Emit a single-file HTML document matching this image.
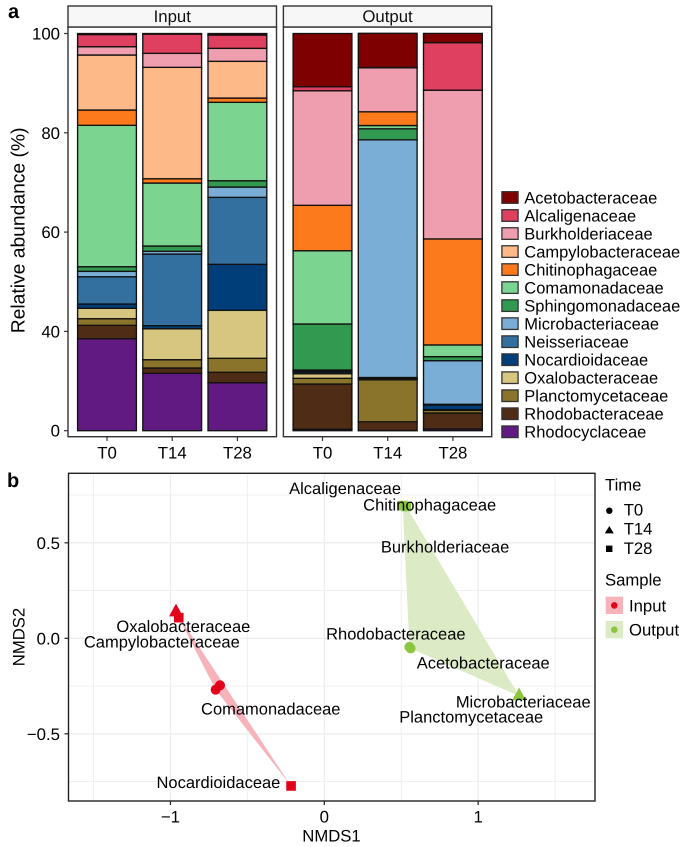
<!DOCTYPE html>
<html>
<head>
<meta charset="utf-8">
<style>
html,body{margin:0;padding:0;background:#fff;}
svg{display:block;font-family:"Liberation Sans",sans-serif;text-rendering:geometricPrecision;}
</style>
</head>
<body>
<svg id="chart" width="685" height="847" viewBox="0 0 685 847" xmlns="http://www.w3.org/2000/svg">
<text x="8" y="18" font-size="20" font-weight="bold" fill="#000">a</text>
<text x="7" y="487" font-size="20" font-weight="bold" fill="#000">b</text>
<text transform="translate(24.7,230.4) rotate(-90)" text-anchor="middle" font-size="19.3" fill="#000">Relative abundance (%)</text>
<text x="331.5" y="841.5" text-anchor="middle" font-size="16.7" fill="#000">NMDS1</text>
<text transform="translate(24.7,637) rotate(-90)" text-anchor="middle" font-size="16.7" fill="#000">NMDS2</text>
<g id="panelA"></g>
<g id="legendA"></g>
<g id="panelB"></g>
<g>
<text x="605" y="490.7" font-size="16.7" fill="#000">Time</text>
<circle cx="609.3" cy="510.7" r="3.2" fill="#000"/>
<text x="623.7" y="515.3" font-size="16.7" fill="#000">T0</text>
<polygon points="609.3,526 604.8,533.4 613.8,533.4" fill="#000"/>
<text x="623.7" y="534.7" font-size="16.7" fill="#000">T14</text>
<rect x="606" y="545.6" width="6.4" height="6.4" fill="#000"/>
<text x="623.7" y="554" font-size="16.7" fill="#000">T28</text>
</g>
<g>
<text x="605" y="585.5" font-size="16.7" fill="#000">Sample</text>
<rect x="605.7" y="596.7" width="17.3" height="17.3" fill="#f6b3ba"/>
<circle cx="614.3" cy="605.4" r="3.3" fill="#e2001a"/>
<text x="629" y="611.7" font-size="16.7" fill="#000">Input</text>
<rect x="605.7" y="621" width="17.3" height="17.3" fill="#dcebc6"/>
<circle cx="614.3" cy="629.7" r="3.3" fill="#8cc63f"/>
<text x="629" y="635.7" font-size="16.7" fill="#000">Output</text>
</g>
</svg>
<script>
// ---------- Panel a data (percent, order: Input T0,T14,T28, Output T0,T14,T28) ----------
const families = ["Acetobacteraceae","Alcaligenaceae","Burkholderiaceae","Campylobacteraceae","Chitinophagaceae","Comamonadaceae","Sphingomonadaceae","Microbacteriaceae","Neisseriaceae","Nocardioidaceae","Oxalobacteraceae","Planctomycetaceae","Rhodobacteraceae","Rhodocyclaceae"];
const familyColors = ["#7f0000","#e04060","#ee9eae","#feb989","#fd7a1c","#7bd48f","#329a50","#7aaed6","#33709f","#003e7a","#d6c680","#8a742c","#4e2c15","#601a82"];
const timeLabels = ["T0","T14","T28"];
const panelNames = ["Input","Output"];
const abundanceTicks = [0,25,50,75,100];
const abundanceTickLabels = ["0","40","60","80","100"];
const acetobacteraceae = [0.25,0.13,0.38,13.39,8.61,2.32];
const alcaligenaceae = [3.07,4.86,3.35,1.01,0.08,11.98];
const burkholderiaceae = [2.09,3.52,3.27,28.85,11.08,37.44];
const campylobacteraceae = [13.85,28.05,9.24,0,0,0];
const chitinophagaceae = [3.85,1.08,1.08,11.43,3.45,26.69];
const comamonadaceae = [35.6,15.86,19.74,18.45,0.83,2.95];
const sphingomonadaceae = [1.16,1.33,1.59,11.58,2.77,1.01];
const microbacteriaceae = [1.36,0.68,2.59,0.25,59.84,10.98];
const neisseriaceae = [6.87,18.05,16.87,0.25,0.2,0.18];
const nocardioidaceae = [1.08,0.76,11.58,0.43,0.13,1.18];
const oxalobacteraceae = [2.62,7.8,12.08,1.16,0.25,0.15];
const planctomycetaceae = [1.66,2.09,3.52,1.44,10.57,0.68];
const rhodobacteraceae = [3.37,1.33,2.62,11.4,2.19,4.03];
const rhodocyclaceae = [23.16,14.45,12.08,0.35,0.05,0.43];
// ---------- Panel b data (NMDS units) ----------
const inputNmds1 = [-0.678,-0.706,-0.964,-0.946,-0.216];
const inputNmds2 = [-0.246,-0.269,0.138,0.108,-0.773];
const inputTimes = ["T0","T0","T14","T28","T28"];
const outputNmds1 = [0.553,0.561,1.266,0.51,0.533];
const outputNmds2 = [-0.045,-0.053,-0.302,0.695,0.69];
const outputTimes = ["T0","T0","T14","T28","T28"];
const nmdsLabels = ["Alcaligenaceae","Chitinophagaceae","Burkholderiaceae","Oxalobacteraceae","Campylobacteraceae","Comamonadaceae","Nocardioidaceae","Rhodobacteraceae","Acetobacteraceae","Microbacteriaceae","Planctomycetaceae"];
const nmdsLabelX = [0.135,0.685,0.785,-0.916,-1.056,-0.348,-0.688,0.465,1.033,1.293,0.955];
const nmdsLabelY = [0.756,0.668,0.448,0.033,-0.049,-0.4,-0.784,-0.005,-0.159,-0.363,-0.442];
const nmds1Ticks = [-1,0,1];
const nmds1Minor = [-1.5,-0.5,0.5,1.5];
const nmds2Ticks = [-0.5,0,0.5];
const nmds2Minor = [-0.75,-0.25,0.25,0.75];

const seriesList = [acetobacteraceae,alcaligenaceae,burkholderiaceae,campylobacteraceae,chitinophagaceae,comamonadaceae,sphingomonadaceae,microbacteriaceae,neisseriaceae,nocardioidaceae,oxalobacteraceae,planctomycetaceae,rhodobacteraceae,rhodocyclaceae];

const NS = "http://www.w3.org/2000/svg";
function mk(parent, tag, props, txt){
  const el = document.createElementNS(NS, tag);
  for (const k in props) el.setAttribute(k, props[k]);
  if (txt !== undefined) el.textContent = txt;
  parent.appendChild(el);
  return el;
}
function minusText(v, digits){
  const s = Math.abs(v).toFixed(digits);
  return (v < 0 ? "\u2212" : "") + s;
}

// axis functions
const yAbund = v => 430.7 - 3.972 * v;
const xBand = (panel, i) => [107, 322.5][panel] + 65.2 * i;
const xN = v => 324.3 + 153.85 * v;
const yN = v => 638.3 - 191 * v;

// Panel a
const pa = document.getElementById("panelA");
const frames = [[68,276.5],[283.4,491.7]];
panelNames.forEach((pname, p) => {
  const [l, r] = frames[p];
  const bg = mk(pa, "rect", {x:l, y:27, width:r-l, height:409.7, fill:"#fff"});
  
  
  timeLabels.forEach((t, i) => {
    const idx = p * 3 + i;
    const cx = xBand(p, i);
    let cum = 0;
    for (let s = seriesList.length - 1; s >= 0; s--) {
      const val = seriesList[s][idx];
      if (val <= 0) continue;
      const y1 = yAbund(cum), y0 = yAbund(cum + val);
      const seg = mk(pa, "rect", {x:cx-29.4, y:y0, width:58.8, height:y1-y0, fill:familyColors[s], stroke:"#111", "stroke-width":1.35});
      
      
      cum += val;
    }
    const tick = mk(pa, "line", {x1:cx, x2:cx, y1:436.7, y2:441, stroke:"#333", "stroke-width":1.2});
    
    
    const lab = mk(pa, "text", {x:cx, y:458.3, "text-anchor":"middle", "font-size":16.8, fill:"#000"}, t);
    
    
  });
  const frame = mk(pa, "rect", {x:l, y:27, width:r-l, height:409.7, fill:"none", stroke:"#333", "stroke-width":1.4});
  
  
  const strip = mk(pa, "rect", {x:l, y:6, width:r-l, height:21, fill:"#f7f7f7", stroke:"#333", "stroke-width":1.4});
  
  
  const stripText = mk(pa, "text", {x:(l+r)/2, y:22, "text-anchor":"middle", "font-size":16.8, fill:"#111"}, pname);
  
  
});
abundanceTicks.forEach((v, i) => {
  const y = yAbund(v);
  const tick = mk(pa, "line", {x1:64, x2:68, y1:y, y2:y, stroke:"#333", "stroke-width":1.2});
  
  
  const lab = mk(pa, "text", {x:60, y:y+6, "text-anchor":"end", "font-size":16.8, fill:"#000"}, abundanceTickLabels[i]);
  
  
});

// Family legend
const la = document.getElementById("legendA");
families.forEach((f, i) => {
  const cy = 197.5 + 18.02 * i;
  const key = mk(la, "rect", {x:501.9, y:cy-5.8, width:16.2, height:11.6, fill:familyColors[i], stroke:"#333", "stroke-width":1.3});
  
  
  const lab = mk(la, "text", {x:524.3, y:cy+5.8, "font-size":16.5, fill:"#000"}, f);
  
  
});

// Panel b
const pb = document.getElementById("panelB");
const L = 68.5, R = 595, T = 473.3, B = 801;
nmds1Minor.forEach(v => {
  const g = mk(pb, "line", {x1:xN(v), x2:xN(v), y1:T, y2:B, stroke:"#f0f0f0", "stroke-width":1});
  
  
});
nmds2Minor.forEach(v => {
  const g = mk(pb, "line", {x1:L, x2:R, y1:yN(v), y2:yN(v), stroke:"#f0f0f0", "stroke-width":1});
  
  
});
nmds1Ticks.forEach(v => {
  const g = mk(pb, "line", {x1:xN(v), x2:xN(v), y1:T, y2:B, stroke:"#eeeeee", "stroke-width":1.3});
  
  
});
nmds2Ticks.forEach(v => {
  const g = mk(pb, "line", {x1:L, x2:R, y1:yN(v), y2:yN(v), stroke:"#eeeeee", "stroke-width":1.3});
  
  
});
function hull(xs, ys){
  const pts = xs.map((x, i) => [x, ys[i]]).sort((a, b) => a[0] - b[0] || a[1] - b[1]);
  const cross = (o, a, b) => (a[0]-o[0])*(b[1]-o[1]) - (a[1]-o[1])*(b[0]-o[0]);
  const lo = [], up = [];
  pts.forEach(p => { while (lo.length > 1 && cross(lo[lo.length-2], lo[lo.length-1], p) <= 0) lo.pop(); lo.push(p); });
  pts.slice().reverse().forEach(p => { while (up.length > 1 && cross(up[up.length-2], up[up.length-1], p) <= 0) up.pop(); up.push(p); });
  return lo.slice(0, -1).concat(up.slice(0, -1));
}
function drawSample(xs, ys, times, hullColor, pointColor){
  const poly = mk(pb, "polygon", {points: hull(xs, ys).map(p => xN(p[0]) + "," + yN(p[1])).join(" "), fill:hullColor});
  
  
  xs.forEach((x, i) => {
    const px = xN(x), py = yN(ys[i]);
    let m;
    if (times[i] === "T0") m = mk(pb, "circle", {cx:px, cy:py, r:5, fill:pointColor});
    else if (times[i] === "T14") m = mk(pb, "polygon", {points:(px)+","+(py-8.3)+" "+(px-7)+","+(py+4.4)+" "+(px+7)+","+(py+4.4), fill:pointColor});
    else m = mk(pb, "rect", {x:px-4.8, y:py-4.8, width:9.6, height:9.6, fill:pointColor});
    
    
  });
}
drawSample(inputNmds1, inputNmds2, inputTimes, "#f6b3ba", "#e2001a");
drawSample(outputNmds1, outputNmds2, outputTimes, "#dcebc6", "#8cc63f");
nmdsLabels.forEach((t, i) => {
  const lab = mk(pb, "text", {x:xN(nmdsLabelX[i]), y:yN(nmdsLabelY[i]), "text-anchor":"middle", "font-size":16.5, fill:"#000"}, t);
  
  
});
const border = mk(pb, "rect", {x:L, y:T, width:R-L, height:B-T, fill:"none", stroke:"#222", "stroke-width":1.4});


nmds1Ticks.forEach(v => {
  const tick = mk(pb, "line", {x1:xN(v), x2:xN(v), y1:B, y2:B+4, stroke:"#222", "stroke-width":1.2});
  
  
  const lab = mk(pb, "text", {x:xN(v), y:822.7, "text-anchor":"middle", "font-size":16.8, fill:"#000"}, minusText(v, 0));
  
  
});
nmds2Ticks.forEach(v => {
  const tick = mk(pb, "line", {x1:L-4, x2:L, y1:yN(v), y2:yN(v), stroke:"#222", "stroke-width":1.2});
  
  
  const lab = mk(pb, "text", {x:60, y:yN(v)+6, "text-anchor":"end", "font-size":16.8, fill:"#000"}, minusText(v, 1));
  
  
});
</script>
</body>
</html>
